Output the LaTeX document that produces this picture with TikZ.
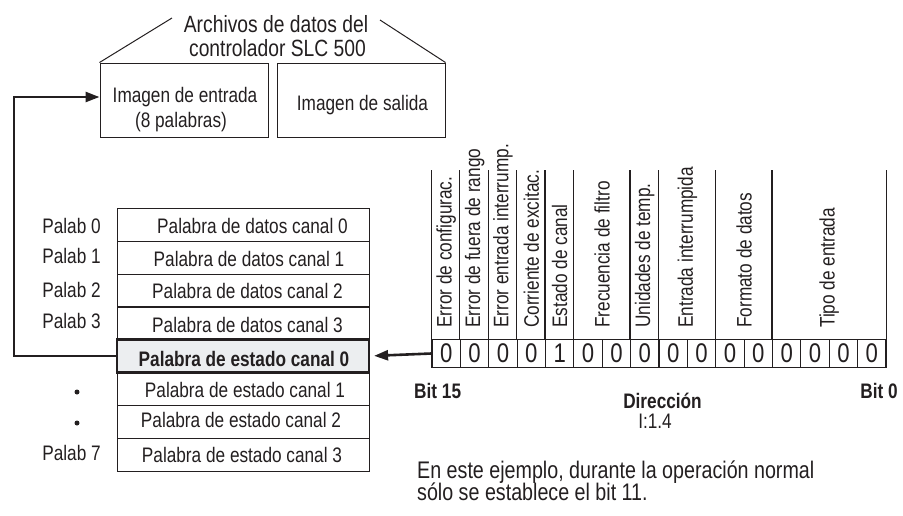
\documentclass[tikz,border=0pt]{standalone}
\usepackage{fontspec}
\setmainfont{Liberation Sans}[FakeStretch=0.82]
\usetikzlibrary{arrows.meta}
\definecolor{ink}{HTML}{231F20}
\definecolor{hilite}{HTML}{ECEEF0}
\newcommand\setfs[1]{\fontsize{#1}{#1}\selectfont}
\begin{document}
\begin{tikzpicture}[x=1pt,y=-1pt,
  txt/.style={inner sep=0pt, anchor=base, text=ink, font=\setfs{21}},
  boxnode/.style={draw=ink, line width=1pt, minimum width=168pt, minimum height=74pt, inner sep=0pt},
  rowbox/.style={draw=ink, line width=1pt, minimum width=252pt, minimum height=33pt, inner sep=0pt},
  bitcell/.style={draw=ink, line width=1.2pt, minimum width=28.375pt, minimum height=28.5pt, inner sep=0pt, text=ink, font=\setfs{27}},
  vlabel/.style={inner sep=0pt, anchor=west, rotate=90, text=ink, font=\setfs{21}},
  thickarrow/.style={draw=ink, line width=2.6pt, -{Triangle[length=14pt,width=10pt]}},
  plain/.style={draw=ink, line width=1pt},
  dotmark/.style={circle, fill=ink, inner sep=0pt, minimum size=5pt}]
\useasboundingbox (0,0) rectangle (903,515);

% title and image boxes
\node[txt, font=\setfs{23.5}] (t1) at (276,32) {Archivos de datos del};
\node[txt, font=\setfs{23.5}] (t2) at (277.5,56) {controlador SLC 500};
\node[boxnode] (box1) at (184,100) {};
\node[boxnode] (box2) at (361,100) {};
\coordinate (dl) at (172,18);
\coordinate (dr) at (380,20);
\draw[plain] (box1.north west) -- (dl);
\draw[plain] (box2.north east) -- (dr);
\node[txt] (e1) at (185,102) {Imagen de entrada};
\node[txt] (e2) at (181,127) {(8 palabras)};
\node[txt] (s1) at (362.5,110) {Imagen de salida};

% word table
\node[rowbox] (r0) at (243,224.5) {};
\node[rowbox] (r1) at (243,257.5) {};
\node[rowbox] (r2) at (243,290.5) {};
\node[rowbox] (r3) at (243,323) {};
\node[rowbox] (r5) at (243,389) {};
\node[rowbox] (r6) at (243,421.5) {};
\node[rowbox] (r7) at (243,454.5) {};
\node[rowbox, fill=hilite, line width=2.2pt] (r4) at (243,356) {};

\node[txt] (c0) at (252.5,233) {Palabra de datos canal 0};
\node[txt] (c1) at (249,266) {Palabra de datos canal 1};
\node[txt] (c2) at (247.5,298) {Palabra de datos canal 2};
\node[txt] (c3) at (247.5,332) {Palabra de datos canal 3};
\node[txt, font=\setfs{21}\bfseries] (c4) at (244,366) {Palabra de estado canal 0};
\node[txt] (c5) at (245,397) {Palabra de estado canal 1};
\node[txt] (c6) at (241,427) {Palabra de estado canal 2};
\node[txt] (c7) at (242,462) {Palabra de estado canal 3};

\node[txt] (p0) at (71.5,233) {Palab 0};
\node[txt] (p1) at (71.5,263) {Palab 1};
\node[txt] (p2) at (71.5,297) {Palab 2};
\node[txt] (p3) at (71.5,328) {Palab 3};
\node[txt] (p7) at (71.5,460) {Palab 7};
\node[dotmark] (d5) at (77,392) {};
\node[dotmark] (d6) at (77,423) {};

% bit register
\foreach \i/\v in {15/0,14/0,13/0,12/0,11/1,10/0,9/0,8/0,7/0,6/0,5/0,4/0,3/0,2/0,1/0,0/0}{
  \pgfmathsetmacro\cx{886-28.375*(\i+0.5)}
  \node[bitcell] (b\i) at (\cx,353.5) {\v};
}
\foreach \k in {15,14,13,12,11,10,8,7,5,3}{
  \draw[ink, line width=1.2pt] (b\k.north west) -- ++(0,-169);
}
\draw[ink, line width=1.2pt] (b0.north east) -- ++(0,-169);

\node[vlabel] (l15) at (446.2,328) {Error de configurac.};
\node[vlabel] (l14) at (474.6,328) {Error de fuera de rango};
\node[vlabel] (l13) at (502.9,328) {Error entrada interrump.};
\node[vlabel] (l12) at (531.3,328) {Corriente de excitac.};
\node[vlabel] (l11) at (559.7,328) {Estado de canal};
\node[vlabel] (l10) at (602.2,328) {Frecuencia de filtro};
\node[vlabel] (l8) at (644.8,328) {Unidades de temp.};
\node[vlabel] (l7) at (687.4,328) {Entrada interrumpida};
\node[vlabel] (l5) at (744.1,328) {Formato de datos};
\node[vlabel] (l3) at (829.2,328) {Tipo de entrada};

\node[txt, anchor=base west, font=\setfs{21}\bfseries] (bit15) at (414,398) {Bit 15};
\node[txt, anchor=base east, font=\setfs{21}\bfseries] (bit0) at (898,398) {Bit 0};
\node[txt, font=\setfs{21}\bfseries] (dir) at (662.5,408) {Dirección};
\node[txt] (addr) at (655,428) {I:1.4};

\node[txt, anchor=base west, font=\setfs{24}] (n1) at (417,478) {En este ejemplo, durante la operación normal};
\node[txt, anchor=base west, font=\setfs{24}] (n2) at (417,500) {sólo se establece el bit 11.};

% connectors
\coordinate (corner) at (14,356);
\draw[thickarrow] (r4.west) -- (corner) |- ([yshift=3pt]box1.west);
\draw[thickarrow, shorten >=4pt] (b15.west) -- (r4.east);
\end{tikzpicture}
\end{document}
